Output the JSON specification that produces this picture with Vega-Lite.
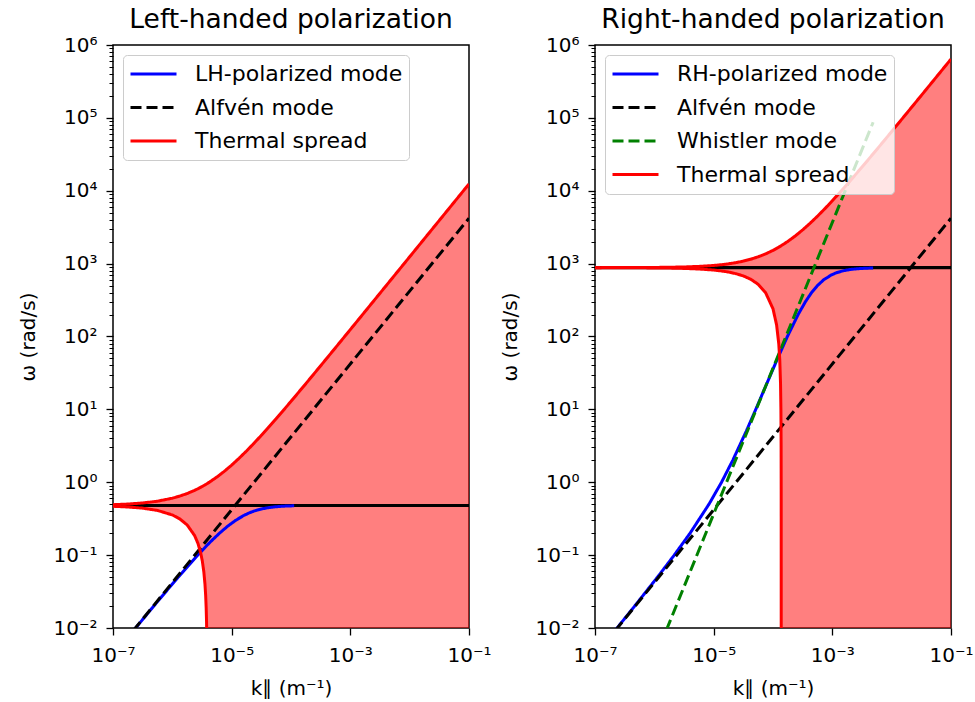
{
  "$schema": "https://vega.github.io/schema/vega-lite/v6.json",
  "padding": {"left": 18, "top": 5, "right": 5, "bottom": 0},
  "bounds": "flush",
  "spacing": 126,
  "background": "white",
  "datasets": {
    "lhMode": [
      {"k": 1.1967e-7, "w": 0.005}, {"k": 2.4062e-7, "w": 0.01}, {"k": 4.8643e-7, "w": 0.02},
      {"k": 1.2578e-6, "w": 0.05}, {"k": 2.6759e-6, "w": 0.1}, {"k": 4.3073e-6, "w": 0.15},
      {"k": 6.2349e-6, "w": 0.2}, {"k": 8.5989e-6, "w": 0.25}, {"k": 1.16642e-5, "w": 0.3},
      {"k": 1.6013e-5, "w": 0.35}, {"k": 1.9822e-5, "w": 0.38}, {"k": 2.3328e-5, "w": 0.4},
      {"k": 2.6851e-5, "w": 0.415}, {"k": 3.1722e-5, "w": 0.43}, {"k": 4.2857e-5, "w": 0.45},
      {"k": 5.3656e-5, "w": 0.46}, {"k": 6.2628e-5, "w": 0.465}, {"k": 7.7529e-5, "w": 0.47},
      {"k": 9.3259e-5, "w": 0.473}, {"k": 1.1314e-4, "w": 0.4752}
    ],
    "rhMode": [
      {"k": 1.1846e-7, "w": 0.005}, {"k": 2.3571e-7, "w": 0.01}, {"k": 4.667e-7, "w": 0.02},
      {"k": 1.1333e-6, "w": 0.05}, {"k": 2.1667e-6, "w": 0.1}, {"k": 4.0023e-6, "w": 0.2},
      {"k": 8.3363e-6, "w": 0.5}, {"k": 1.3571e-5, "w": 1}, {"k": 2.0978e-5, "w": 2},
      {"k": 3.5343e-5, "w": 5}, {"k": 5.1262e-5, "w": 10}, {"k": 7.3762e-5, "w": 20},
      {"k": 1.1956e-4, "w": 50}, {"k": 1.7485e-4, "w": 100}, {"k": 2.6514e-4, "w": 200},
      {"k": 3.5175e-4, "w": 300}, {"k": 4.4655e-4, "w": 400}, {"k": 5.612e-4, "w": 500},
      {"k": 7.1625e-4, "w": 600}, {"k": 9.6493e-4, "w": 700}, {"k": 1.1753e-3, "w": 750},
      {"k": 1.5474e-3, "w": 800}, {"k": 1.9937e-3, "w": 830}, {"k": 2.6047e-3, "w": 850},
      {"k": 3.2088e-3, "w": 860}, {"k": 3.8486e-3, "w": 866}, {"k": 4.869e-3, "w": 871.2}
    ],
    "alfven": [
      {"k": 1e-7, "w": 0.0042}, {"k": 0.1, "w": 4200}
    ],
    "whistler": [
      {"k": 1e-6, "w": 0.003675}, {"k": 4.869e-3, "w": 87125}
    ],
    "ionCyclotron": [
      {"k": 1e-7, "w": 0.48}, {"k": 0.1, "w": 0.48}
    ],
    "electronCyclotron": [
      {"k": 1e-7, "w": 880}, {"k": 0.1, "w": 880}
    ],
    "thermalIon": [
      {"k": 1e-7, "w": 0.4924, "lo": 0.4676},
      {"k": 1.778e-7, "w": 0.502, "lo": 0.458},
      {"k": 3.162e-7, "w": 0.5192, "lo": 0.4408},
      {"k": 5.623e-7, "w": 0.5497, "lo": 0.4103},
      {"k": 1e-6, "w": 0.604, "lo": 0.356},
      {"k": 1.334e-6, "w": 0.6454, "lo": 0.3146},
      {"k": 1.778e-6, "w": 0.7005, "lo": 0.2595},
      {"k": 2.371e-6, "w": 0.774, "lo": 0.186},
      {"k": 2.7e-6, "w": 0.8148, "lo": 0.1452},
      {"k": 3.0e-6, "w": 0.852, "lo": 0.108},
      {"k": 3.2e-6, "w": 0.8768, "lo": 0.0832},
      {"k": 3.4e-6, "w": 0.9016, "lo": 0.0584},
      {"k": 3.55e-6, "w": 0.9202, "lo": 0.0398},
      {"k": 3.65e-6, "w": 0.9326, "lo": 0.0274},
      {"k": 3.72e-6, "w": 0.9413, "lo": 0.01872},
      {"k": 3.77e-6, "w": 0.9475, "lo": 0.01252},
      {"k": 3.81e-6, "w": 0.9524, "lo": 0.00756},
      {"k": 3.84e-6, "w": 0.9562, "lo": 0.00384},
      {"k": 3.871e-6, "w": 0.96, "lo": 0.001},
      {"k": 4.217e-6, "w": 1.0029, "lo": 0.001},
      {"k": 5.623e-6, "w": 1.1773, "lo": 0.001},
      {"k": 7.499e-6, "w": 1.4099, "lo": 0.001},
      {"k": 1e-5, "w": 1.72, "lo": 0.001},
      {"k": 1.334e-5, "w": 2.1342, "lo": 0.001},
      {"k": 1.778e-5, "w": 2.6847, "lo": 0.001},
      {"k": 2.371e-5, "w": 3.42, "lo": 0.001},
      {"k": 3.162e-5, "w": 4.4009, "lo": 0.001},
      {"k": 4.217e-5, "w": 5.7091, "lo": 0.001},
      {"k": 5.623e-5, "w": 7.4525, "lo": 0.001},
      {"k": 7.499e-5, "w": 9.7788, "lo": 0.001},
      {"k": 1e-4, "w": 12.88, "lo": 0.001},
      {"k": 1.778e-4, "w": 22.527, "lo": 0.001},
      {"k": 3.162e-4, "w": 39.689, "lo": 0.001},
      {"k": 5.623e-4, "w": 70.205, "lo": 0.001},
      {"k": 1e-3, "w": 124.48, "lo": 0.001},
      {"k": 1.778e-3, "w": 220.95, "lo": 0.001},
      {"k": 3.162e-3, "w": 392.57, "lo": 0.001},
      {"k": 1e-2, "w": 1240.5, "lo": 0.001},
      {"k": 3.162e-2, "w": 3921.4, "lo": 0.001},
      {"k": 0.1, "w": 12400.5, "lo": 0.001}
    ],
    "thermalElectron": [
      {"k": 1e-7, "w": 880.64, "lo": 879.36},
      {"k": 1e-6, "w": 886.4, "lo": 873.6},
      {"k": 1.778e-6, "w": 891.38, "lo": 868.62},
      {"k": 3.162e-6, "w": 900.24, "lo": 859.76},
      {"k": 5.623e-6, "w": 915.99, "lo": 844.01},
      {"k": 1e-5, "w": 944, "lo": 816},
      {"k": 1.334e-5, "w": 965.38, "lo": 794.62},
      {"k": 1.778e-5, "w": 993.79, "lo": 766.21},
      {"k": 2.371e-5, "w": 1031.74, "lo": 728.26},
      {"k": 3.162e-5, "w": 1082.37, "lo": 677.63},
      {"k": 4.217e-5, "w": 1149.89, "lo": 610.11},
      {"k": 5.623e-5, "w": 1239.87, "lo": 520.13},
      {"k": 7.499e-5, "w": 1359.94, "lo": 400.06},
      {"k": 1e-4, "w": 1520, "lo": 240},
      {"k": 1.15e-4, "w": 1616, "lo": 144},
      {"k": 1.25e-4, "w": 1680, "lo": 80},
      {"k": 1.3e-4, "w": 1712, "lo": 48},
      {"k": 1.34e-4, "w": 1737.6, "lo": 22.4},
      {"k": 1.36e-4, "w": 1750.4, "lo": 9.6},
      {"k": 1.37e-4, "w": 1756.8, "lo": 3.2},
      {"k": 1.374e-4, "w": 1759.36, "lo": 0.64},
      {"k": 1.3749e-4, "w": 1759.94, "lo": 0.064},
      {"k": 1.37499e-4, "w": 1759.99, "lo": 0.0064},
      {"k": 1.375e-4, "w": 1760, "lo": 0.001},
      {"k": 1.778e-4, "w": 2017.9, "lo": 0.001},
      {"k": 2.371e-4, "w": 2397.4, "lo": 0.001},
      {"k": 3.162e-4, "w": 2903.7, "lo": 0.001},
      {"k": 4.217e-4, "w": 3578.9, "lo": 0.001},
      {"k": 5.623e-4, "w": 4478.7, "lo": 0.001},
      {"k": 7.499e-4, "w": 5679.4, "lo": 0.001},
      {"k": 1e-3, "w": 7280, "lo": 0.001},
      {"k": 1.778e-3, "w": 12259, "lo": 0.001},
      {"k": 3.162e-3, "w": 21117, "lo": 0.001},
      {"k": 5.623e-3, "w": 36867, "lo": 0.001},
      {"k": 1e-2, "w": 64880, "lo": 0.001},
      {"k": 3.162e-2, "w": 203248, "lo": 0.001},
      {"k": 0.1, "w": 640880, "lo": 0.001}
    ]
  },
  "config": {
    "font": "DejaVu Sans",
    "view": {"stroke": "black", "strokeWidth": 1.5},
    "axis": {
      "labelFont": "DejaVu Sans", "labelFontSize": 20, "labelColor": "black",
      "titleFont": "DejaVu Sans", "titleFontSize": 20, "titleFontWeight": "normal", "titleColor": "black",
      "tickColor": "black", "tickWidth": 1.3, "tickSize": 7, "domain": false, "grid": false,
      "labelOverlap": false, "labelBound": false, "labelFlush": false
    },
    "title": {"font": "DejaVu Sans", "fontSize": 26.5, "fontWeight": "normal", "color": "black", "anchor": "middle", "baseline": "alphabetic", "offset": 2},
    "legend": {
      "orient": "top-left", "offset": 10, "fillColor": "rgba(255,255,255,0.8)", "strokeColor": "#cccccc",
      "cornerRadius": 4, "padding": 6, "labelFont": "DejaVu Sans", "labelFontSize": 22, "labelColor": "black",
      "labelLimit": 400, "symbolType": "stroke", "symbolSize": 2116, "symbolStrokeWidth": 3,
      "clipHeight": 26, "rowPadding": 7.5, "labelOffset": 17
    }
  },
  "resolve": {
    "scale": {"color": "independent", "strokeDash": "independent"},
    "legend": {"color": "independent", "strokeDash": "independent"}
  },
  "hconcat": [
    {
      "title": "Left-handed polarization",
      "width": 356,
      "height": 583,
      "encoding": {
        "x": {"field": "k", "type": "quantitative", "scale": {"type": "log", "domain": [1e-7, 0.1]},
          "axis": {"values": [1e-7, 1e-5, 1e-3, 0.1], "title": "k∥ (m⁻¹)", "labelPadding": 10, "titlePadding": 13,
            "labelExpr": "['10⁻⁷','10⁻⁶','10⁻⁵','10⁻⁴','10⁻³','10⁻²','10⁻¹'][round(log(datum.value)/LN10)+7]"}},
        "y": {"field": "w", "type": "quantitative", "scale": {"type": "log", "domain": [0.01, 1000000]},
          "axis": {"title": "ω (rad/s)", "labelPadding": 9, "titlePadding": 14,
            "values": [0.01,0.02,0.03,0.04,0.05,0.06,0.07,0.08,0.09,0.1,0.2,0.3,0.4,0.5,0.6,0.7,0.8,0.9,1,2,3,4,5,6,7,8,9,10,20,30,40,50,60,70,80,90,100,200,300,400,500,600,700,800,900,1000,2000,3000,4000,5000,6000,7000,8000,9000,10000,20000,30000,40000,50000,60000,70000,80000,90000,100000,200000,300000,400000,500000,600000,700000,800000,900000,1000000],
            "tickSize": {"condition": {"test": "abs(log(datum.value)/LN10 - round(log(datum.value)/LN10)) < 0.001", "value": 7}, "value": 4},
            "tickWidth": {"condition": {"test": "abs(log(datum.value)/LN10 - round(log(datum.value)/LN10)) < 0.001", "value": 1.3}, "value": 1},
            "labelExpr": "abs(log(datum.value)/LN10 - round(log(datum.value)/LN10)) < 0.001 ? ['10⁻²','10⁻¹','10⁰','10¹','10²','10³','10⁴','10⁵','10⁶'][round(log(datum.value)/LN10)+2] : ''"}}
      },
      "layer": [
        {
          "data": {"name": "thermalIon"},
          "mark": {"type": "area", "color": "red", "fillOpacity": 0.5, "clip": true},
          "encoding": {"y2": {"field": "lo"}}
        },
        {
          "data": {"name": "ionCyclotron"},
          "mark": {"type": "line", "color": "black", "strokeWidth": 3.2, "clip": true},
          "encoding": {}
        },
        {
          "data": {"name": "lhMode"},
          "mark": {"type": "line", "strokeWidth": 3, "clip": true},
          "encoding": {
            "color": {"datum": "LH-polarized mode", "scale": {"domain": ["LH-polarized mode", "Alfvén mode", "Thermal spread"], "range": ["#0000ff", "#000000", "#ff0000"]}, "legend": {"title": null}},
            "strokeDash": {"datum": "LH-polarized mode", "scale": {"domain": ["LH-polarized mode", "Alfvén mode", "Thermal spread"], "range": [[1, 0], [11, 5], [1, 0]]}, "legend": {"title": null}}
          }
        },
        {
          "data": {"name": "alfven"},
          "mark": {"type": "line", "strokeWidth": 3, "clip": true},
          "encoding": {
            "color": {"datum": "Alfvén mode"},
            "strokeDash": {"datum": "Alfvén mode"}
          }
        },
        {
          "data": {"name": "thermalIon"},
          "mark": {"type": "line", "strokeWidth": 3, "clip": true},
          "encoding": {
            "color": {"datum": "Thermal spread"},
            "strokeDash": {"datum": "Thermal spread"}
          }
        },
        {
          "data": {"name": "thermalIon"},
          "mark": {"type": "line", "strokeWidth": 3, "clip": true},
          "encoding": {
            "y": {"field": "lo", "type": "quantitative", "scale": {"type": "log", "domain": [0.01, 1000000]},
              "axis": {"title": "ω (rad/s)", "labelPadding": 9, "titlePadding": 14,
                "values": [0.01,0.02,0.03,0.04,0.05,0.06,0.07,0.08,0.09,0.1,0.2,0.3,0.4,0.5,0.6,0.7,0.8,0.9,1,2,3,4,5,6,7,8,9,10,20,30,40,50,60,70,80,90,100,200,300,400,500,600,700,800,900,1000,2000,3000,4000,5000,6000,7000,8000,9000,10000,20000,30000,40000,50000,60000,70000,80000,90000,100000,200000,300000,400000,500000,600000,700000,800000,900000,1000000],
                "tickSize": {"condition": {"test": "abs(log(datum.value)/LN10 - round(log(datum.value)/LN10)) < 0.001", "value": 7}, "value": 4},
                "tickWidth": {"condition": {"test": "abs(log(datum.value)/LN10 - round(log(datum.value)/LN10)) < 0.001", "value": 1.3}, "value": 1},
                "labelExpr": "abs(log(datum.value)/LN10 - round(log(datum.value)/LN10)) < 0.001 ? ['10⁻²','10⁻¹','10⁰','10¹','10²','10³','10⁴','10⁵','10⁶'][round(log(datum.value)/LN10)+2] : ''"}},
            "color": {"datum": "Thermal spread"},
            "strokeDash": {"datum": "Thermal spread"}
          }
        }
      ]
    },
    {
      "title": "Right-handed polarization",
      "width": 356,
      "height": 583,
      "encoding": {
        "x": {"field": "k", "type": "quantitative", "scale": {"type": "log", "domain": [1e-7, 0.1]},
          "axis": {"values": [1e-7, 1e-5, 1e-3, 0.1], "title": "k∥ (m⁻¹)", "labelPadding": 10, "titlePadding": 13,
            "labelExpr": "['10⁻⁷','10⁻⁶','10⁻⁵','10⁻⁴','10⁻³','10⁻²','10⁻¹'][round(log(datum.value)/LN10)+7]"}},
        "y": {"field": "w", "type": "quantitative", "scale": {"type": "log", "domain": [0.01, 1000000]},
          "axis": {"title": "ω (rad/s)", "labelPadding": 9, "titlePadding": 14,
            "values": [0.01,0.02,0.03,0.04,0.05,0.06,0.07,0.08,0.09,0.1,0.2,0.3,0.4,0.5,0.6,0.7,0.8,0.9,1,2,3,4,5,6,7,8,9,10,20,30,40,50,60,70,80,90,100,200,300,400,500,600,700,800,900,1000,2000,3000,4000,5000,6000,7000,8000,9000,10000,20000,30000,40000,50000,60000,70000,80000,90000,100000,200000,300000,400000,500000,600000,700000,800000,900000,1000000],
            "tickSize": {"condition": {"test": "abs(log(datum.value)/LN10 - round(log(datum.value)/LN10)) < 0.001", "value": 7}, "value": 4},
            "tickWidth": {"condition": {"test": "abs(log(datum.value)/LN10 - round(log(datum.value)/LN10)) < 0.001", "value": 1.3}, "value": 1},
            "labelExpr": "abs(log(datum.value)/LN10 - round(log(datum.value)/LN10)) < 0.001 ? ['10⁻²','10⁻¹','10⁰','10¹','10²','10³','10⁴','10⁵','10⁶'][round(log(datum.value)/LN10)+2] : ''"}}
      },
      "layer": [
        {
          "data": {"name": "thermalElectron"},
          "mark": {"type": "area", "color": "red", "fillOpacity": 0.5, "clip": true},
          "encoding": {"y2": {"field": "lo"}}
        },
        {
          "data": {"name": "electronCyclotron"},
          "mark": {"type": "line", "color": "black", "strokeWidth": 3.2, "clip": true},
          "encoding": {}
        },
        {
          "data": {"name": "rhMode"},
          "mark": {"type": "line", "strokeWidth": 3, "clip": true},
          "encoding": {
            "color": {"datum": "RH-polarized mode", "scale": {"domain": ["RH-polarized mode", "Alfvén mode", "Whistler mode", "Thermal spread"], "range": ["#0000ff", "#000000", "#008000", "#ff0000"]}, "legend": {"title": null}},
            "strokeDash": {"datum": "RH-polarized mode", "scale": {"domain": ["RH-polarized mode", "Alfvén mode", "Whistler mode", "Thermal spread"], "range": [[1, 0], [11, 5], [11, 5], [1, 0]]}, "legend": {"title": null}}
          }
        },
        {
          "data": {"name": "alfven"},
          "mark": {"type": "line", "strokeWidth": 3, "clip": true},
          "encoding": {
            "color": {"datum": "Alfvén mode"},
            "strokeDash": {"datum": "Alfvén mode"}
          }
        },
        {
          "data": {"name": "whistler"},
          "mark": {"type": "line", "strokeWidth": 3, "clip": true},
          "encoding": {
            "color": {"datum": "Whistler mode"},
            "strokeDash": {"datum": "Whistler mode"}
          }
        },
        {
          "data": {"name": "thermalElectron"},
          "mark": {"type": "line", "strokeWidth": 3, "clip": true},
          "encoding": {
            "color": {"datum": "Thermal spread"},
            "strokeDash": {"datum": "Thermal spread"}
          }
        },
        {
          "data": {"name": "thermalElectron"},
          "mark": {"type": "line", "strokeWidth": 3, "clip": true},
          "encoding": {
            "y": {"field": "lo", "type": "quantitative", "scale": {"type": "log", "domain": [0.01, 1000000]},
              "axis": {"title": "ω (rad/s)", "labelPadding": 9, "titlePadding": 14,
                "values": [0.01,0.02,0.03,0.04,0.05,0.06,0.07,0.08,0.09,0.1,0.2,0.3,0.4,0.5,0.6,0.7,0.8,0.9,1,2,3,4,5,6,7,8,9,10,20,30,40,50,60,70,80,90,100,200,300,400,500,600,700,800,900,1000,2000,3000,4000,5000,6000,7000,8000,9000,10000,20000,30000,40000,50000,60000,70000,80000,90000,100000,200000,300000,400000,500000,600000,700000,800000,900000,1000000],
                "tickSize": {"condition": {"test": "abs(log(datum.value)/LN10 - round(log(datum.value)/LN10)) < 0.001", "value": 7}, "value": 4},
                "tickWidth": {"condition": {"test": "abs(log(datum.value)/LN10 - round(log(datum.value)/LN10)) < 0.001", "value": 1.3}, "value": 1},
                "labelExpr": "abs(log(datum.value)/LN10 - round(log(datum.value)/LN10)) < 0.001 ? ['10⁻²','10⁻¹','10⁰','10¹','10²','10³','10⁴','10⁵','10⁶'][round(log(datum.value)/LN10)+2] : ''"}},
            "color": {"datum": "Thermal spread"},
            "strokeDash": {"datum": "Thermal spread"}
          }
        }
      ]
    }
  ]
}
